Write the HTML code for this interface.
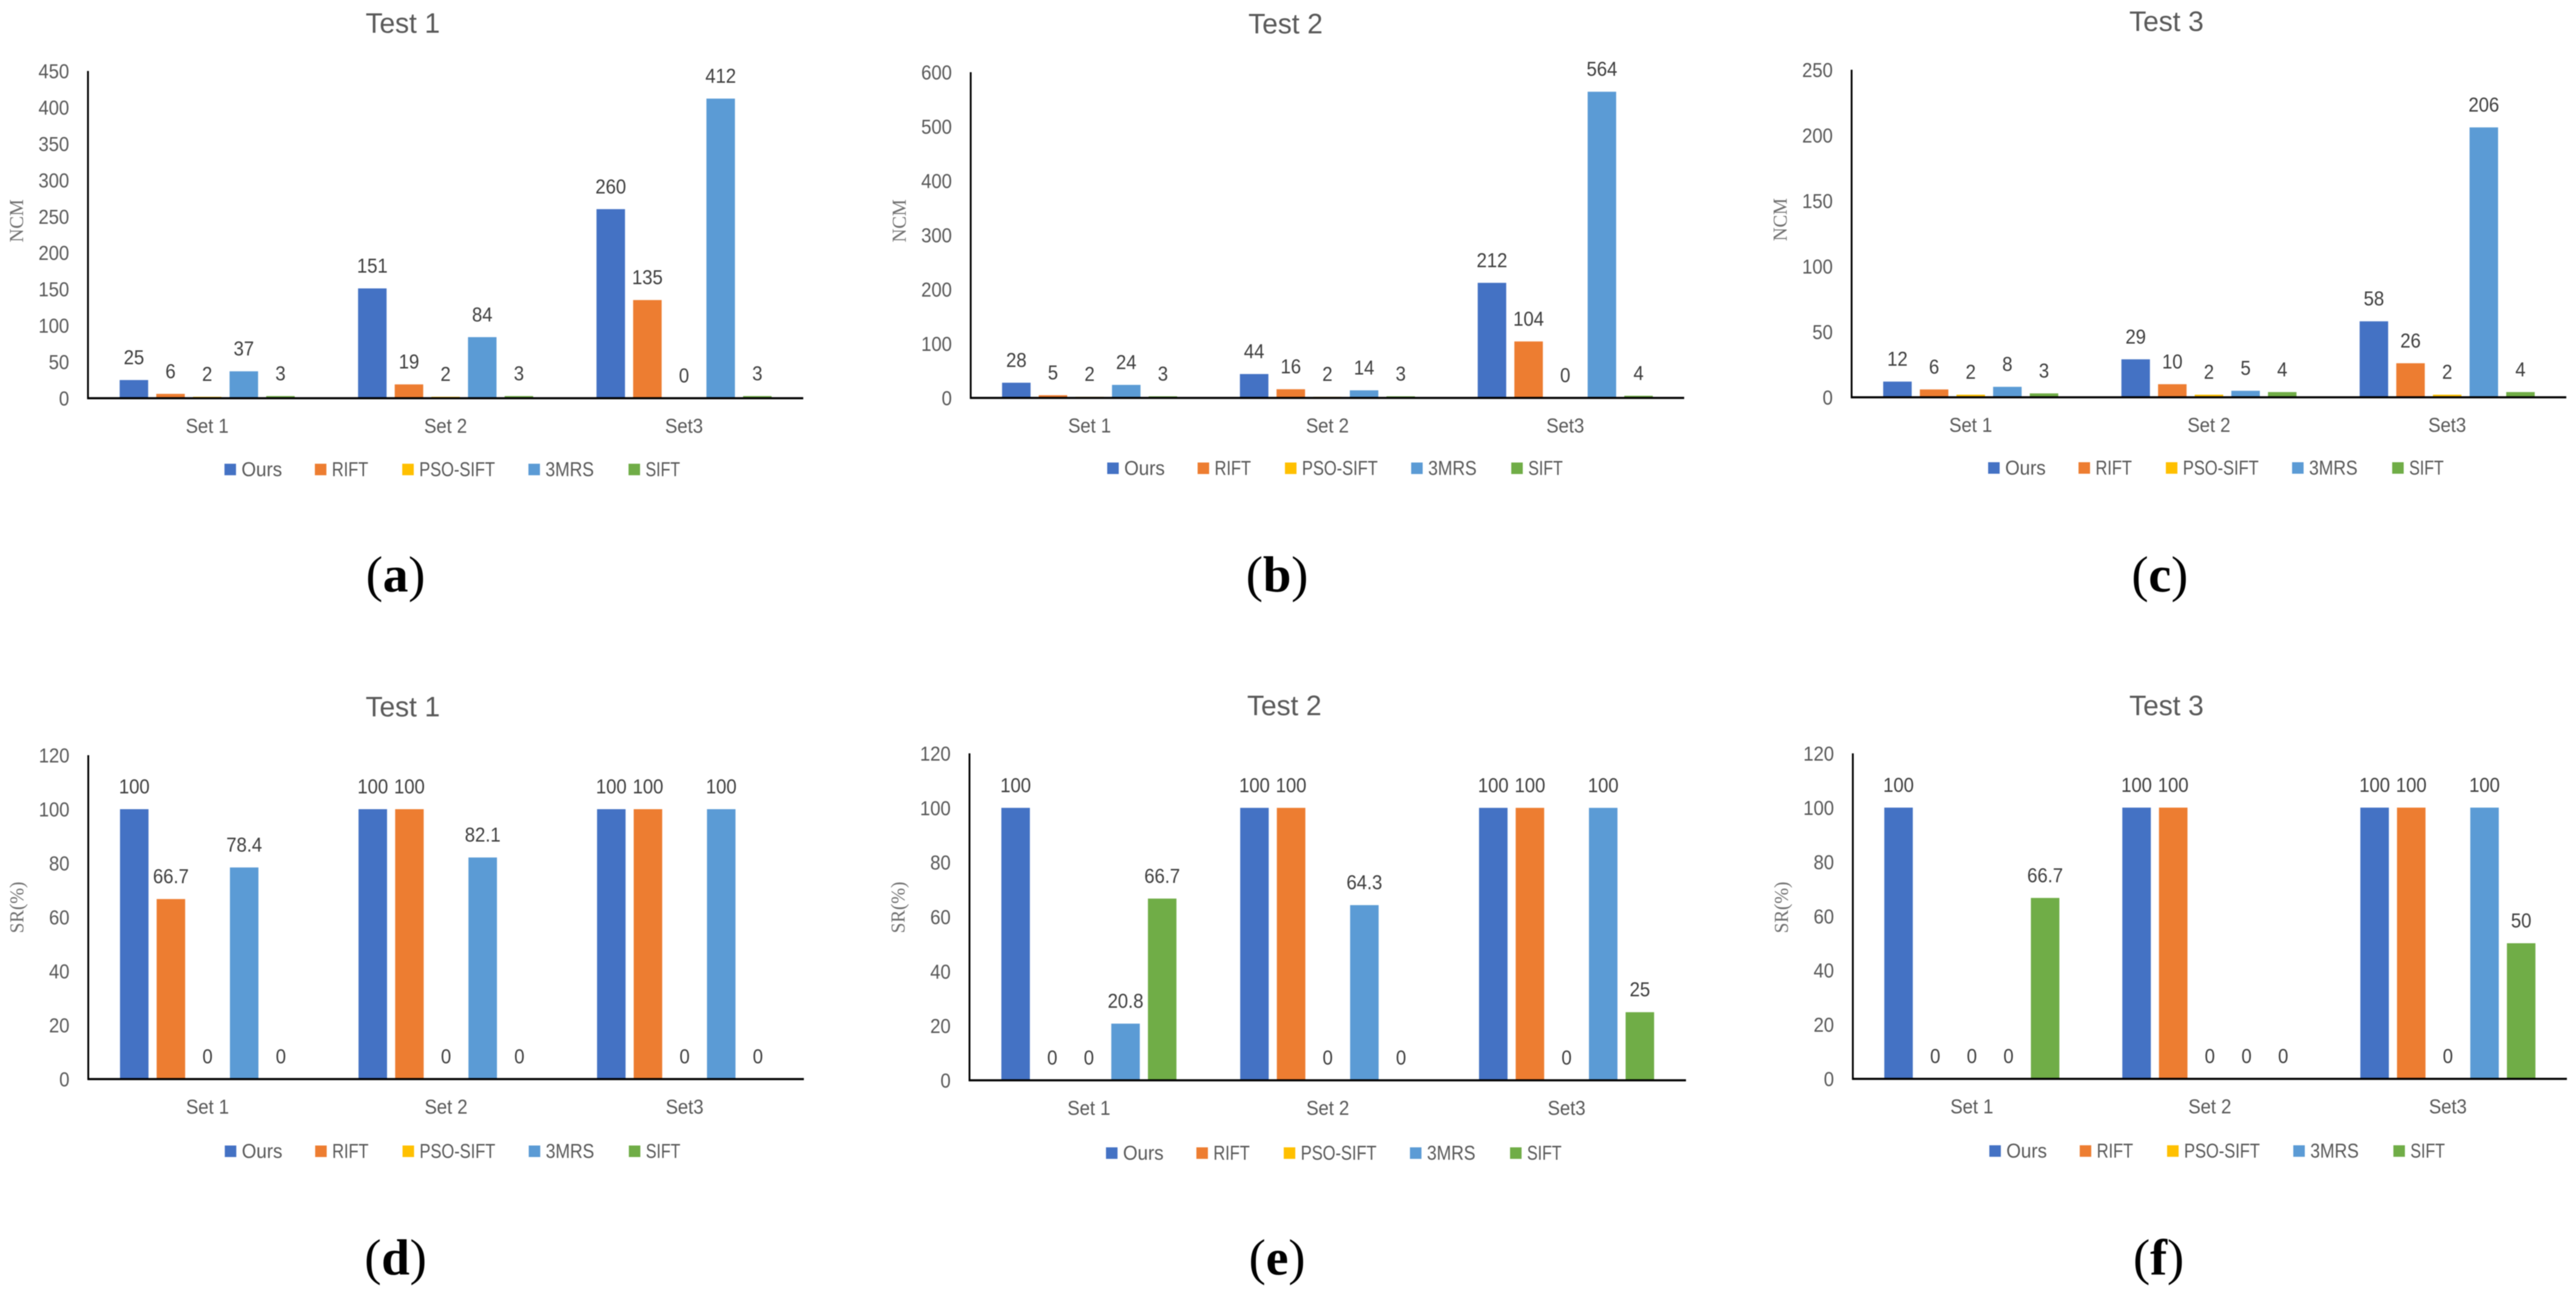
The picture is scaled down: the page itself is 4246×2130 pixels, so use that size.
<!DOCTYPE html>
<html>
<head>
<meta charset="utf-8">
<title>NCM and SR comparison charts</title>
<style>
html,body{margin:0;padding:0;background:#fff;width:4246px;height:2130px;overflow:hidden}
svg{display:block;filter:blur(.9px)}
text{font-family:"Liberation Sans",sans-serif}
</style>
</head>
<body>
<svg id="figure" xmlns="http://www.w3.org/2000/svg" width="4246" height="2130" viewBox="0 0 4246 2130"></svg>
<script>
const categories = ['Set 1', 'Set 2', 'Set3'];
const seriesNames = ['Ours', 'RIFT', 'PSO-SIFT', '3MRS', 'SIFT'];
const seriesColors = ['#4472c4', '#ed7d31', '#ffc000', '#5b9bd5', '#70ad47'];

const ncmTicksTest1 = [0, 50, 100, 150, 200, 250, 300, 350, 400, 450];
const ncmTicksTest2 = [0, 100, 200, 300, 400, 500, 600];
const ncmTicksTest3 = [0, 50, 100, 150, 200, 250];
const srTicks = [0, 20, 40, 60, 80, 100, 120];

// rows follow seriesNames, columns follow categories
const ncmTest1 = [[25, 151, 260], [6, 19, 135], [2, 2, 0], [37, 84, 412], [3, 3, 3]];
const ncmTest2 = [[28, 44, 212], [5, 16, 104], [2, 2, 0], [24, 14, 564], [3, 3, 4]];
const ncmTest3 = [[12, 29, 58], [6, 10, 26], [2, 2, 2], [8, 5, 206], [3, 4, 4]];
const srTest1 = [[100, 100, 100], [66.7, 100, 100], [0, 0, 0], [78.4, 82.1, 100], [0, 0, 0]];
const srTest2 = [[100, 100, 100], [0, 100, 100], [0, 0, 0], [20.8, 64.3, 100], [66.7, 0, 25]];
const srTest3 = [[100, 100, 100], [0, 100, 100], [0, 0, 0], [0, 0, 100], [66.7, 0, 50]];

const legendOffsets = [225, 374, 518, 726, 891];
const legendWidths = [67, 60, 125, 80, 57];

const panels = [
  {title: 'Test 1', tx: 664, ty: 54, yTitle: 'NCM', x0: 145, x1: 1324, top: 117, base: 656.5, ticks: ncmTicksTest1, values: ncmTest1, letter: 'a', lx: 652, ly: 975, tcy: 364, legY: 774},
  {title: 'Test 2', tx: 2119, ty: 55, yTitle: 'NCM', x0: 1600, x1: 2776, top: 119, base: 656, ticks: ncmTicksTest2, values: ncmTest2, letter: 'b', lx: 2105, ly: 975, tcy: 364, legY: 772},
  {title: 'Test 3', tx: 3571, ty: 51, yTitle: 'NCM', x0: 3052, x1: 4230, top: 115, base: 655, ticks: ncmTicksTest3, values: ncmTest3, letter: 'c', lx: 3560, ly: 975, tcy: 362, legY: 771.5},
  {title: 'Test 1', tx: 664, ty: 1181, yTitle: 'SR(%)', x0: 145.5, x1: 1325, top: 1245, base: 1779, ticks: srTicks, values: srTest1, letter: 'd', lx: 652, ly: 2101, tcy: 1496, legY: 1898},
  {title: 'Test 2', tx: 2117, ty: 1179, yTitle: 'SR(%)', x0: 1598, x1: 2779, top: 1242, base: 1781, ticks: srTicks, values: srTest2, letter: 'e', lx: 2105, ly: 2101, tcy: 1496, legY: 1901},
  {title: 'Test 3', tx: 3571, ty: 1179, yTitle: 'SR(%)', x0: 3054, x1: 4231, top: 1242, base: 1778.6, ticks: srTicks, values: srTest3, letter: 'f', lx: 3558, ly: 2101, tcy: 1496, legY: 1897.6}
];

const NS = 'http://www.w3.org/2000/svg';
const fig = document.getElementById('figure');
const NARROW = 0.92;

function make(parent, tag, attrs, content) {
  const node = document.createElementNS(NS, tag);
  for (const k in attrs) node.setAttribute(k, attrs[k]);
  if (content !== undefined) node.textContent = content;
  parent.appendChild(node);
  return node;
}

function narrowText(parent, x, y, anchor, fill, content) {
  return make(parent, 'text', {
    x: x / NARROW, y: y, transform: 'scale(' + NARROW + ',1)',
    'text-anchor': anchor, 'font-size': 33, fill: fill
  }, content);
}

panels.forEach(function (p) {
  const g = make(fig, 'g', {});
  
  

  const tickMax = p.ticks[p.ticks.length - 1];
  const yScale = function (v) { return p.base - (v / tickMax) * (p.base - p.top); };
  const catW = (p.x1 - p.x0) / categories.length;
  const pitch = 60.4;
  const barW = 47;
  const xScale = function (c, s) { return p.x0 + catW * (c + 0.5) + (s - 2) * pitch; };

  const title = make(g, 'text', {x: p.tx, y: p.ty, 'text-anchor': 'middle', 'font-size': 46, fill: '#595959'}, p.title);
  
  

  p.ticks.forEach(function (t) {
    const tick = narrowText(g, p.x0 - 31, yScale(t) + 12, 'end', '#595959', String(t));
    
    
  });

  const yt = make(g, 'text', {
    x: 0, y: 0, transform: 'translate(' + (p.x0 - 107) + ',' + p.tcy + ') rotate(-90)',
    'text-anchor': 'middle', 'font-size': 33, fill: '#707070',
    style: 'font-family:"Liberation Serif",serif',
    textLength: p.yTitle === 'NCM' ? 71 : 85, lengthAdjust: 'spacingAndGlyphs'
  }, p.yTitle);
  
  

  p.values.forEach(function (series, s) {
    series.forEach(function (v, c) {
      const bx = xScale(c, s);
      const by = yScale(v);
      const bar = make(g, 'rect', {x: bx - barW / 2, y: by, width: barW, height: p.base - by, fill: seriesColors[s]});
      
      
      const lab = narrowText(g, bx, by - 26, 'middle', '#404040', String(v));
      
      
    });
  });

  const yAxis = make(g, 'line', {x1: p.x0, y1: p.top, x2: p.x0, y2: p.base + 1.5, stroke: '#000', 'stroke-width': 3});
  
  
  const xAxis = make(g, 'line', {x1: p.x0 - 1, y1: p.base, x2: p.x1, y2: p.base, stroke: '#000', 'stroke-width': 3.5});
  
  

  categories.forEach(function (name, c) {
    const cat = narrowText(g, p.x0 + catW * (c + 0.5), p.base + 57, 'middle', '#595959', name);
    
    
  });

  seriesNames.forEach(function (name, s) {
    const lx = p.x0 + legendOffsets[s];
    const sw = make(g, 'rect', {x: lx, y: p.legY - 9.5, width: 19, height: 19, fill: seriesColors[s]});
    
    
    const lt = make(g, 'text', {x: lx + 28, y: p.legY + 11, 'font-size': 33, fill: '#595959', textLength: legendWidths[s], lengthAdjust: 'spacingAndGlyphs'}, name);
    
    
  });

  const cap = make(g, 'text', {x: p.lx, y: p.ly, 'text-anchor': 'middle', 'font-size': 84, fill: '#000', style: 'font-family:"Liberation Serif",serif'});
  
  
  make(cap, 'tspan', {}, '(');
  make(cap, 'tspan', {'font-weight': 'bold'}, p.letter);
  make(cap, 'tspan', {}, ')');
});
</script>
</body>
</html>
